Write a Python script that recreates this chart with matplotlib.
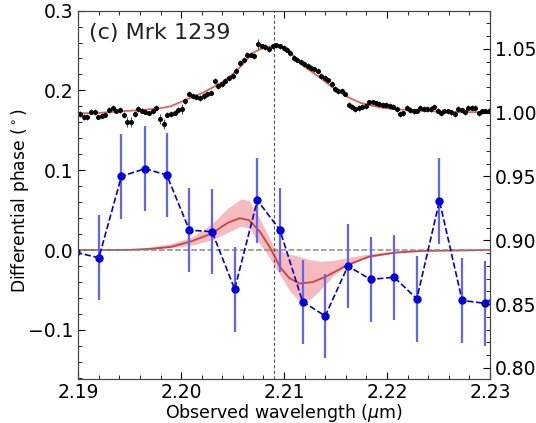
import numpy as np
import matplotlib
matplotlib.use('Agg')
import matplotlib.pyplot as plt
from matplotlib.ticker import MultipleLocator

# differential phase (left axis)
phase_wl = [2.1898, 2.1920, 2.1942, 2.1965, 2.1986, 2.2008, 2.2030, 2.2052, 2.2074, 2.2096,
            2.2118, 2.2140, 2.2162, 2.2184, 2.2207, 2.2229, 2.2251, 2.2273, 2.2295, 2.2317]
phase = [-0.003, -0.0096, 0.0925, 0.102, 0.094, 0.025, 0.023, -0.049, 0.0625, 0.025,
         -0.0646, -0.0825, -0.020, -0.0367, -0.034, -0.061, 0.0617, -0.063, -0.0667, -0.049]
phase_err = [0.053, 0.053, 0.053, 0.053, 0.053, 0.053, 0.053, 0.053, 0.053, 0.053,
             0.0525, 0.053, 0.053, 0.053, 0.053, 0.0535, 0.0535, 0.053, 0.053, 0.053]

# model of the phase signal with its uncertainty band
model_wl = [2.1900, 2.1950, 2.1970, 2.1990, 2.2010, 2.2030, 2.2045, 2.2057, 2.2066, 2.2076,
            2.2086, 2.2096, 2.2105, 2.2115, 2.2128, 2.2141, 2.2161, 2.2183, 2.2209, 2.2235, 2.2300]
model_phase = [0.0, 0.0003, 0.0015, 0.004, 0.011, 0.021, 0.034, 0.040, 0.0375, 0.024,
               0.004, -0.021, -0.035, -0.042, -0.040, -0.033, -0.019, -0.008, -0.003, -0.001, 0.0]

band_wl = [2.1900, 2.1950, 2.1970, 2.1990, 2.2010, 2.2030, 2.2045, 2.2058, 2.2066, 2.2074, 2.2082,
           2.2090, 2.2098, 2.2106, 2.2115, 2.2125, 2.2135, 2.2148, 2.2160, 2.2177, 2.2200, 2.2230, 2.2300]
band_lo = [0.0, 0.0, 0.001, 0.003, 0.006, 0.013, 0.022, 0.030, 0.028, 0.012, -0.002,
           -0.018, -0.035, -0.052, -0.064, -0.062, -0.050, -0.032, -0.021, -0.011, -0.005, -0.001, 0.0]
band_hi = [0.0, 0.001, 0.004, 0.008, 0.016, 0.033, 0.052, 0.064, 0.062, 0.045, 0.025,
           0.004, -0.002, -0.005, -0.008, -0.012, -0.014, -0.013, -0.010, -0.006, -0.002, 0.0, 0.0]

# normalised spectrum (right axis), blue side and red side of the line peak
flux_blue = [0.999, 0.9964, 0.9964, 1.0008, 1.0003, 0.9969, 0.9977, 0.9985, 1.0021, 1.0036,
             1.0016, 1.0023, 0.9982, 0.9925, 0.9925, 0.999, 1.0029, 1.0016, 1.0008, 0.9995,
             1.001, 1.0036, 0.9951, 0.9912, 0.9985, 0.999, 1.0, 1.0021, 1.0029, 1.0093,
             1.0145, 1.0132, 1.0124, 1.0114, 1.0132, 1.0145, 1.0157, 1.0248, 1.0209, 1.0222,
             1.0248, 1.0269, 1.0287, 1.0326, 1.039, 1.0416, 1.0455, 1.0455, 1.0442, 1.0537,
             1.0519, 1.0514, 1.0501, 1.0519, 1.0527, 1.0519, 1.0506]
flux_red = [1.0494, 1.0467, 1.0429, 1.0416, 1.0398, 1.0382, 1.0364, 1.0351, 1.0339, 1.0326,
            1.0287, 1.0274, 1.0253, 1.0227, 1.0184, 1.0171, 1.0171, 1.015, 1.0062, 1.0047,
            1.0029, 1.0036, 1.0047, 1.0054, 1.008, 1.008, 1.0072, 1.0067, 1.0062, 1.0062, 1.0054,
            1.0047, 1.0029, 0.999, 0.9995, 1.0036, 1.0021, 1.001, 1.0016, 1.0036, 1.0029,
            1.0029, 1.0029, 1.0047, 1.0016, 0.9995, 1.001, 1.001, 1.0002, 0.999, 1.0029,
            1.0021, 1.0002, 1.0036, 1.0036, 1.0036, 0.9995, 1.001, 1.0016, 1.0016]
spec_wl = np.concatenate([np.linspace(2.19017, 2.20995, len(flux_blue)),
                          np.linspace(2.21029, 2.22990, len(flux_red))])
flux = np.array(flux_blue + flux_red)
flux_err = np.full(len(flux), 0.0022)
flux_err[[13, 14, 22, 23, 28, 49]] = 0.004

fit_wl = [2.1900, 2.1920, 2.1940, 2.1960, 2.1980, 2.1990, 2.2000, 2.2010, 2.2020, 2.2030,
          2.2040, 2.2050, 2.2060, 2.2070, 2.2080, 2.2090, 2.2100, 2.2110, 2.2120, 2.2135,
          2.2150, 2.2165, 2.2175, 2.2193, 2.2205, 2.2225, 2.2246, 2.2270, 2.2300]
fit_flux = [0.9995, 0.9998, 1.0010, 1.0020, 1.0035, 1.0050, 1.0085, 1.0120, 1.0152, 1.0195,
            1.0240, 1.0300, 1.0380, 1.0470, 1.0510, 1.0522, 1.0512, 1.0440, 1.0360, 1.0274,
            1.0180, 1.0110, 1.0075, 1.0041, 1.0030, 1.0018, 1.0010, 1.0005, 1.0002]

line_centre = 2.209

plt.rcParams['font.family'] = 'DejaVu Sans'
fig = plt.figure(figsize=(5.36, 4.23), dpi=100)
ax = fig.add_axes([0.146, 0.103, 0.768, 0.872])

ax.fill_between(band_wl, band_lo, band_hi, color='#f2a5a8', alpha=0.75, lw=0)
ax.plot(model_wl, model_phase, color='#c8453f', lw=1.3)
ax.axhline(0, color='#888888', ls='--', lw=1.1)
ax.axvline(line_centre, color='#555555', ls=(0, (3, 2)), lw=0.8)
ax.errorbar(phase_wl, phase, yerr=phase_err, fmt='o', ms=5, color='#0000dd',
            ecolor='#6464f0', elinewidth=1.6, capsize=0, zorder=4)
ax.plot(phase_wl, phase, ls='--', color='#0000cc', lw=1.2, zorder=4)

ax.set_xlim(2.19, 2.23)
ax.set_ylim(-0.162, 0.3)
ax.xaxis.set_major_locator(MultipleLocator(0.01))
ax.xaxis.set_minor_locator(MultipleLocator(0.002))
ax.yaxis.set_major_locator(MultipleLocator(0.1))
ax.yaxis.set_minor_locator(MultipleLocator(0.02))
ax.tick_params(which='both', direction='in', top=True, right=False, labelsize=13.5)
ax.tick_params(which='major', length=5)
ax.tick_params(which='minor', length=3)
ax.tick_params(axis='x', pad=2.5)
ax.set_xlabel(r'Observed wavelength ($\mu$m)', fontsize=12.5, labelpad=0)
ax.set_ylabel(r'Differential phase ($^\circ$)', fontsize=12.3)
ax.yaxis.set_label_coords(-0.115, 0.485)
ax.text(0.025, 0.965, '(c) Mrk 1239', transform=ax.transAxes, fontsize=16,
        va='top', ha='left', color='#222222')

ax2 = ax.twinx()
ax2.plot(fit_wl, fit_flux, color='#e0463f', lw=1.3, alpha=0.85)
ax2.errorbar(spec_wl, flux, yerr=flux_err, fmt='o', ms=2.6, color='black',
             ecolor='#444444', elinewidth=0.7, capsize=0)
ax2.set_ylim(0.791, 1.080)
ax2.yaxis.set_major_locator(MultipleLocator(0.05))
ax2.yaxis.set_minor_locator(MultipleLocator(0.01))
ax2.tick_params(which='both', direction='in', labelsize=13.5)
ax2.tick_params(which='major', length=5)
ax2.tick_params(which='minor', length=3)

for a in (ax, ax2):
    for s in a.spines.values():
        s.set_color('#444444')

fig.savefig('out.png', dpi=100)
